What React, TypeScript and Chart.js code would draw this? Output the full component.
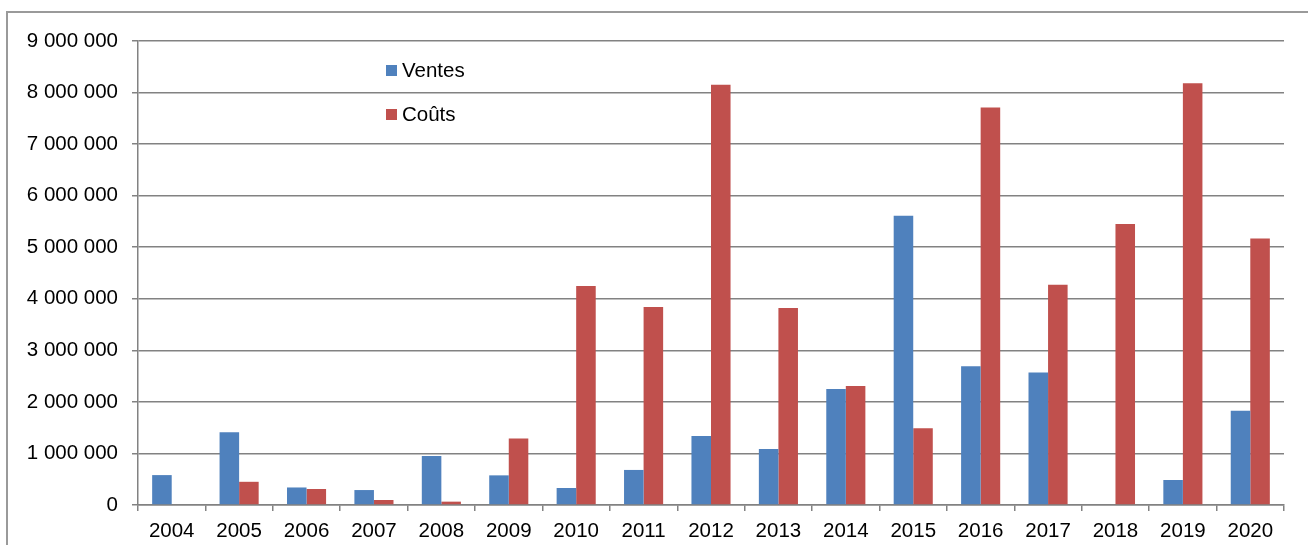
import React, { useEffect, useRef } from "react";
import { Chart, registerables } from "chart.js";

Chart.register(...registerables);

const years = ["2004", "2005", "2006", "2007", "2008", "2009", "2010", "2011", "2012", "2013", "2014", "2015", "2016", "2017", "2018", "2019", "2020"];
const ventes = [580000, 1410000, 340000, 290000, 950000, 575000, 330000, 680000, 1340000, 1085000, 2250000, 5610000, 2690000, 2570000, null, 485000, 1830000];
const couts = [null, 450000, 310000, 97000, 65000, 1290000, 4250000, 3840000, 8150000, 3820000, 2310000, 1490000, 7710000, 4270000, 5450000, 8180000, 5170000];
const seriesNames = ["Ventes", "Coûts"];
const seriesColors = ["#4F81BD", "#C0504D"];

const FONT = "'Liberation Sans', Arial, sans-serif";
const FONT_SIZE = 20.5;

const fmt = (v: number) => String(Math.round(v)).replace(/\B(?=(\d{3})+(?!\d))/g, " ");

const legendPlugin = {
  id: "innerLegend",
  afterDraw(chart: any) {
    const ctx = chart.ctx;
    ctx.save();
    ctx.font = `${FONT_SIZE}px ${FONT}`;
    ctx.textBaseline = "middle";
    ctx.textAlign = "left";
    chart.data.datasets.forEach((ds: any, i: number) => {
      const x = 386;
      const y = 70 + i * 44;
      ctx.fillStyle = ds.backgroundColor;
      ctx.fillRect(x, y - 5, 11, 11);
      ctx.fillStyle = "#000";
      ctx.fillText(ds.label, x + 16, y + 1);
    });
    ctx.restore();
  },
};

export default function App() {
  const ref = useRef<HTMLCanvasElement | null>(null);

  useEffect(() => {
    if (!ref.current) return;
    const chart = new Chart(ref.current, {
      type: "bar",
      data: {
        labels: years,
        datasets: [
          { label: seriesNames[0], data: ventes, backgroundColor: seriesColors[0], borderWidth: 0 },
          { label: seriesNames[1], data: couts, backgroundColor: seriesColors[1], borderWidth: 0 },
        ],
      },
      options: {
        responsive: false,
        animation: false,
        devicePixelRatio: 1,
        layout: { padding: { left: 0, top: 41, right: 24, bottom: 0 } },
        datasets: { bar: { categoryPercentage: 0.58, barPercentage: 1.0 } },
        plugins: { legend: { display: false }, tooltip: { enabled: false } },
        scales: {
          x: {
            afterFit: (s: any) => { s.height = 40; },
            grid: { drawOnChartArea: false, drawTicks: true, tickLength: 6, color: "#828282", lineWidth: 1.5, offset: true },
            border: { display: true, color: "#828282", width: 1.5 },
            ticks: { color: "#000", font: { family: FONT, size: FONT_SIZE }, padding: 8, maxRotation: 0, autoSkip: false },
          },
          y: {
            min: 0,
            max: 9000000,
            afterFit: (s: any) => { s.width = 138; },
            grid: { color: "#828282", lineWidth: 1.5, tickLength: 6 },
            border: { display: true, color: "#828282", width: 1.5 },
            ticks: {
              stepSize: 1000000,
              color: "#000",
              font: { family: FONT, size: FONT_SIZE },
              padding: 14,
              callback: (v: any) => fmt(Number(v)),
            },
          },
        },
      },
      plugins: [legendPlugin],
    });
    return () => chart.destroy();
  }, []);

  return (
    <div style={{ position: "fixed", left: 0, top: 0, width: 1308, height: 545, background: "#fff", overflow: "hidden" }}>
      <div style={{ position: "absolute", left: 6, top: 11, width: 1400, height: 700, border: "2px solid #9a9a9a", boxSizing: "border-box" }} />
      <canvas ref={ref} width={1308} height={545} style={{ position: "absolute", left: 0, top: 0 }} />
    </div>
  );
}
